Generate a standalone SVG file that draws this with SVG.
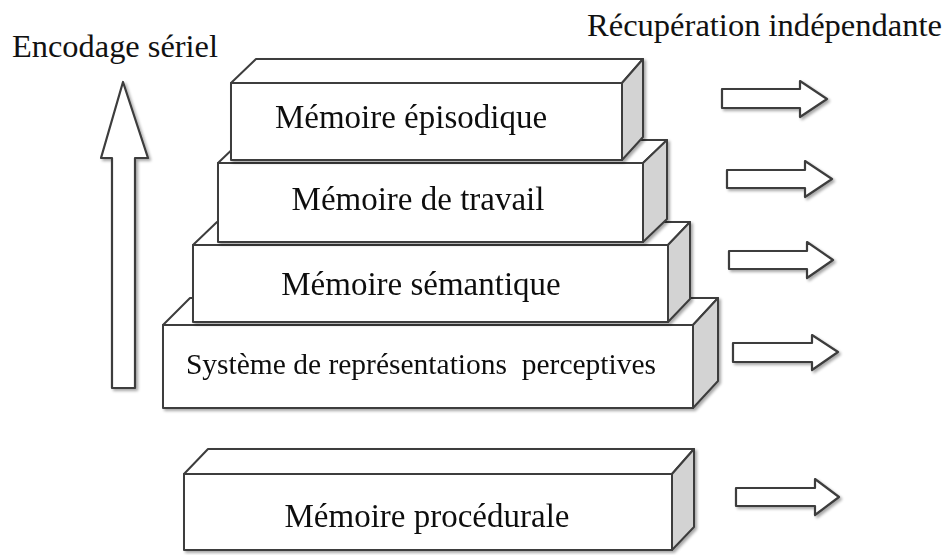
<svg xmlns="http://www.w3.org/2000/svg" width="949" height="555" viewBox="0 0 949 555">
  <defs>
    <filter id="sh" x="-10%" y="-10%" width="130%" height="140%">
      <feGaussianBlur in="SourceAlpha" stdDeviation="1.5"/>
      <feOffset dx="2" dy="2" result="b"/>
      <feComponentTransfer><feFuncA type="linear" slope="0.35"/></feComponentTransfer>
      <feMerge><feMergeNode/><feMergeNode in="SourceGraphic"/></feMerge>
    </filter>
  </defs>
  <style>
    .face{fill:#ffffff;stroke:#3c3c3c;stroke-width:2;stroke-linejoin:round}
    .side{fill:#d3d3d3;stroke:#3c3c3c;stroke-width:2;stroke-linejoin:round}
    .arrow{fill:#ffffff;stroke:#3c3c3c;stroke-width:2.2;stroke-linejoin:round}
    .lbl{font-family:"Liberation Serif","Times New Roman",serif;font-size:33px;fill:#111;text-anchor:middle}
    .ttl{font-family:"Liberation Serif","Times New Roman",serif;font-size:31px;fill:#111}
  </style>
  <rect width="949" height="555" fill="#ffffff"/>

  <text class="ttl" x="12" y="57" textLength="206" lengthAdjust="spacingAndGlyphs">Encodage sériel</text>
  <text class="ttl" x="587" y="36" textLength="355" lengthAdjust="spacingAndGlyphs">Récupération indépendante</text>

  <g id="procedurale" filter="url(#sh)">
    <polygon class="face" points="184,474 208,449 694,449 672,474"/>
    <polygon class="side" points="672,474 694,449 694,527 672,550"/>
    <rect class="face" x="184" y="474" width="488" height="76"/>
    <text class="lbl" x="427" y="527">Mémoire procédurale</text>
  </g>

  <g id="srp" filter="url(#sh)">
    <polygon class="face" points="163,325 190,298 718,298 693,325"/>
    <polygon class="side" points="693,325 718,298 718,381 693,408"/>
    <rect class="face" x="163" y="325" width="530" height="83"/>
    <text class="lbl" x="421" y="374" style="font-size:29.5px">Système de représentations&#160; perceptives</text>
  </g>

  <g id="semantique" filter="url(#sh)">
    <polygon class="face" points="193,245 217,222 690,222 668,245"/>
    <polygon class="side" points="668,245 690,222 690,299 668,322"/>
    <rect class="face" x="193" y="245" width="475" height="77"/>
    <text class="lbl" x="421" y="295">Mémoire sémantique</text>
  </g>

  <g id="travail" filter="url(#sh)">
    <polygon class="face" points="218,163 242,140 667,140 643,163"/>
    <polygon class="side" points="643,163 667,140 667,219 643,242"/>
    <rect class="face" x="218" y="163" width="425" height="79"/>
    <text class="lbl" x="418" y="210">Mémoire de travail</text>
  </g>

  <g id="episodique" filter="url(#sh)">
    <polygon class="face" points="231,83 256,59 643,59 622,83"/>
    <polygon class="side" points="622,83 643,59 643,137 622,160"/>
    <rect class="face" x="231" y="83" width="391" height="77"/>
    <text class="lbl" x="411" y="128">Mémoire épisodique</text>
  </g>

  <g id="connectors" filter="url(#sh)">
    <polygon id="encodage-arrow" class="arrow" points="123,82 148,158 135,158 135,388 112,388 112,158 101,158"/>
    <polygon class="arrow" points="722,89 800,89 800,81 827,99 800,117 800,108 722,108"/>
    <polygon class="arrow" points="727,170 805,170 805,161 832,179 805,197 805,188 727,188"/>
    <polygon class="arrow" points="729,251 807,251 807,242 833,260 807,278 807,269 729,269"/>
    <polygon class="arrow" points="733,343 812,343 812,335 838,352 812,370 812,362 733,362"/>
    <polygon class="arrow" points="736,488 815,488 815,479 839,497 815,515 815,506 736,506"/>
  </g>
</svg>
